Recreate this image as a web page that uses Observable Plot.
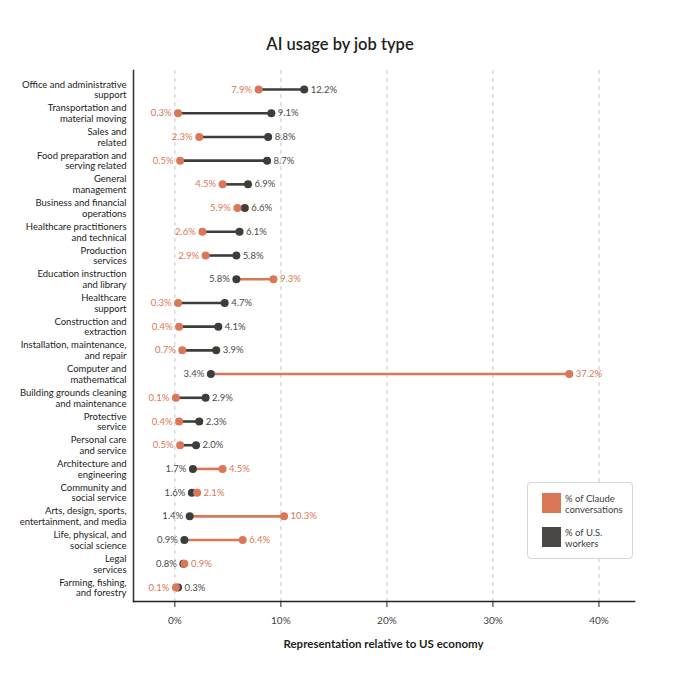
<!DOCTYPE html>
<html>
<head>
<meta charset="utf-8">
<script src="https://cdn.jsdelivr.net/npm/d3@7"></script>
<script src="https://cdn.jsdelivr.net/npm/@observablehq/plot@0.6"></script>
<style>
  html, body { margin: 0; padding: 0; background: #fff; }
  #wrap { position: relative; width: 680px; height: 680px; font-family: Lato, "Noto Sans", sans-serif; color: #222; }
  #wrap svg { position: absolute; left: 0; top: 0; }
  .title { position: absolute; left: 0; width: 680px; top: 34px; text-align: center; font-size: 16.5px; font-weight: 600; color: #1f1f1d; }
  .xlabel { position: absolute; left: 133px; width: 501px; top: 637px; text-align: center; font-size: 11.5px; font-weight: 700; color: #1f1f1d; }
  .legend { position: absolute; left: 527px; top: 482px; width: 106px; height: 77px; border: 1px solid #d6d6d6; border-radius: 4px; background: #fff; box-sizing: border-box; }
  .sw { position: absolute; left: 14px; width: 19px; height: 20px; }
  .lt { position: absolute; left: 37px; font-size: 9.5px; line-height: 11px; color: #3d3d3a; }
</style>
</head>
<body>
<div id="wrap">
  <div class="title">AI usage by job type</div>
  <div class="xlabel">Representation relative to US economy</div>
</div>
<script>
const categories = [
  "Office and administrative\nsupport",
  "Transportation and\nmaterial moving",
  "Sales and\nrelated",
  "Food preparation and\nserving related",
  "General\nmanagement",
  "Business and financial\noperations",
  "Healthcare practitioners\nand technical",
  "Production\nservices",
  "Education instruction\nand library",
  "Healthcare\nsupport",
  "Construction and\nextraction",
  "Installation, maintenance,\nand repair",
  "Computer and\nmathematical",
  "Building grounds cleaning\nand maintenance",
  "Protective\nservice",
  "Personal care\nand service",
  "Architecture and\nengineering",
  "Community and\nsocial service",
  "Arts, design, sports,\nentertainment, and media",
  "Life, physical, and\nsocial science",
  "Legal\nservices",
  "Farming, fishing,\nand forestry"
];
const claudeShare = [7.9, 0.3, 2.3, 0.5, 4.5, 5.9, 2.6, 2.9, 9.3, 0.3, 0.4, 0.7, 37.2, 0.1, 0.4, 0.5, 4.5, 2.1, 10.3, 6.4, 0.9, 0.1];
const workerShare = [12.2, 9.1, 8.8, 8.7, 6.9, 6.6, 6.1, 5.8, 5.8, 4.7, 4.1, 3.9, 3.4, 2.9, 2.3, 2.0, 1.7, 1.6, 1.4, 0.9, 0.8, 0.3];
const xTicks = [0, 10, 20, 30, 40];
const seriesNames = ["% of Claude\nconversations", "% of U.S.\nworkers"];

const ORANGE = "#d97757";
const DARK = "#3d3d3a";
const DARK_TEXT = "#4a4a47";

const rows = categories.map((c, i) => {
  const cl = claudeShare[i], wk = workerShare[i];
  const claudeHigher = cl > wk;
  return {
    cat: c,
    claude: cl,
    workers: wk,
    lo: Math.min(cl, wk),
    hi: Math.max(cl, wk),
    loColor: claudeHigher ? DARK_TEXT : ORANGE,
    hiColor: claudeHigher ? ORANGE : DARK_TEXT,
    lineColor: claudeHigher ? ORANGE : DARK
  };
});
const fmt = v => v.toFixed(1) + "%";

const chart = Plot.plot({
  width: 680,
  height: 680,
  marginTop: 70,
  marginBottom: 79,
  marginLeft: 133,
  marginRight: 46,
  style: { fontFamily: "Lato, 'Noto Sans', sans-serif", background: "transparent" },
  x: { domain: [-3.9, 43.35] },
  y: { type: "point", domain: categories, range: [89, 587], padding: 0, round: false },
  color: { type: "identity" },
  marks: [
    Plot.gridX(xTicks, { stroke: "#c8c8c8", strokeOpacity: 1, strokeDasharray: "4,4", strokeWidth: 1 }),
    Plot.axisX(xTicks, { tickFormat: d => d + "%", tickSize: 6, tickPadding: 9, fontSize: 10, color: "#444", stroke: "#222", label: null }),
    Plot.axisY({ tickSize: 0, tickPadding: 7, fontSize: 9.5, lineHeight: 1.12, color: "#222", label: null }),
    Plot.frame({ anchor: "left", stroke: "#333", strokeWidth: 1.5 }),
    Plot.frame({ anchor: "bottom", stroke: "#222", strokeWidth: 1.5 }),
    Plot.ruleY(rows, { y: "cat", x1: "claude", x2: "workers", stroke: "lineColor", strokeWidth: 2.6 }),
    Plot.dot(rows, { x: "workers", y: "cat", r: 4, fill: DARK, stroke: "none" }),
    Plot.dot(rows, { x: "claude", y: "cat", r: 4, fill: ORANGE, stroke: "none" }),
    Plot.text(rows, { x: "lo", y: "cat", text: d => fmt(d.lo), textAnchor: "end", dx: -6.5, fill: "loColor", fontSize: 9.5 }),
    Plot.text(rows, { x: "hi", y: "cat", text: d => fmt(d.hi), textAnchor: "start", dx: 6.5, fill: "hiColor", fontSize: 9.5 })
  ]
});
const wrap = document.getElementById("wrap");
wrap.insertBefore(chart, wrap.firstChild);

// legend
const legend = document.createElement("div");
legend.className = "legend";
const swColors = [ORANGE, "#4a4845"];
seriesNames.forEach((name, i) => {
  const sw = document.createElement("div");
  sw.className = "sw";
  sw.style.top = (i === 0 ? 10 : 44) + "px";
  sw.style.background = swColors[i];
  legend.appendChild(sw);
  const t = document.createElement("div");
  t.className = "lt";
  t.style.top = (i === 0 ? 10 : 44) + "px";
  t.innerHTML = name.split("\n").join("<br>");
  legend.appendChild(t);
});
wrap.appendChild(legend);
</script>
</body>
</html>
